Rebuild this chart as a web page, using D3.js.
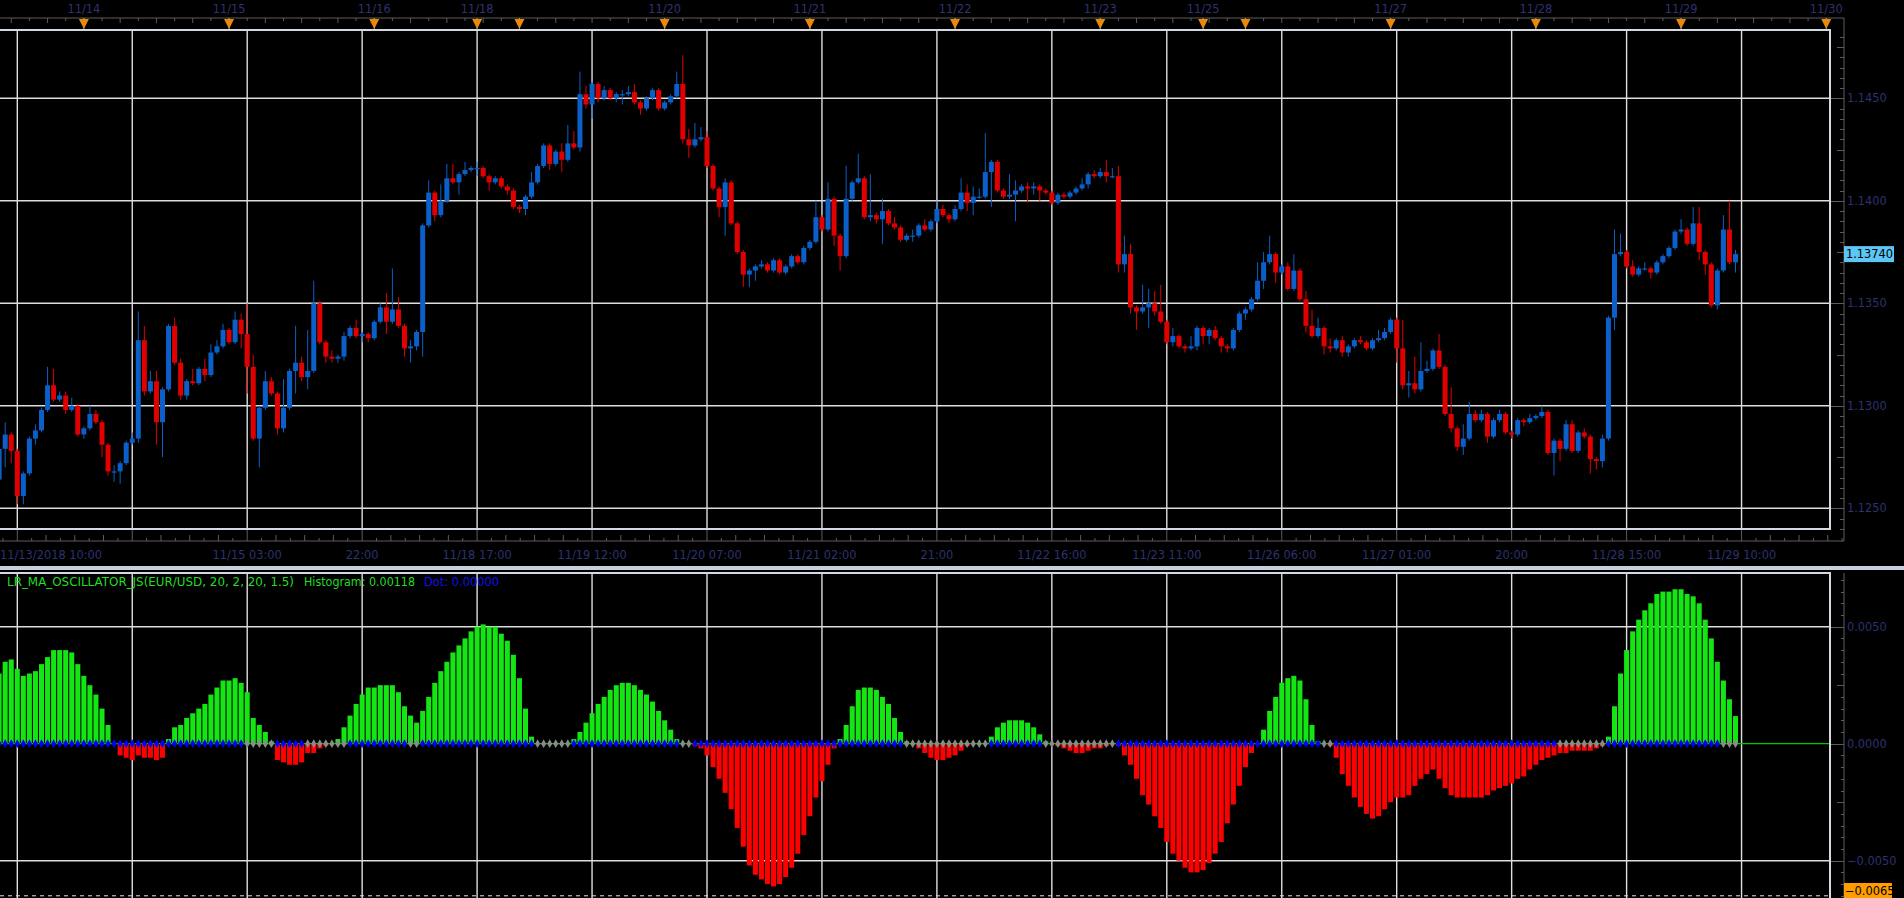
<!DOCTYPE html>
<html>
<head>
<meta charset="utf-8">
<script src="https://cdnjs.cloudflare.com/ajax/libs/d3/7.8.5/d3.min.js"></script>
<style>
  html, body { margin: 0; padding: 0; background: #000; overflow: hidden; }
  svg text { font-family: "DejaVu Sans", Verdana, sans-serif; font-size: 11.4px; }
</style>
</head>
<body>
<div id="chart"></div>
<script>

// EUR/USD hourly bars, 11/13/2018 10:00 .. 11/29 09:00
// prices in pips above 1.1200, each open is the previous close
var firstOpen = 64;
var closes = [
  79, 86, 78, 56, 67, 84, 88, 98, 110, 103,
  105, 98, 100, 86, 89, 96, 92, 81, 68, 68,
  72, 82, 84, 132, 107, 112, 92, 108, 139, 121,
  105, 112, 111, 118, 115, 126, 129, 137, 131, 142,
  135, 119, 84, 99, 112, 106, 89, 99, 117, 121,
  114, 117, 150, 131, 124, 123, 124, 134, 138, 134,
  135, 133, 141, 148, 141, 147, 139, 128, 129, 136,
  188, 204, 193, 200, 211, 209, 213, 215, 216, 216,
  212, 209, 211, 207, 205, 197, 196, 202, 209, 217,
  227, 218, 224, 220, 228, 226, 252, 247, 257, 250,
  254, 250, 252, 252, 253, 248, 245, 250, 254, 245,
  248, 251, 257, 230, 227, 230, 231, 217, 206, 197,
  209, 189, 175, 164, 166, 168, 169, 166, 171, 165,
  168, 173, 170, 177, 180, 192, 186, 201, 183, 173,
  201, 209, 211, 192, 193, 191, 195, 189, 187, 181,
  183, 183, 188, 186, 190, 196, 193, 191, 196, 204,
  199, 202, 202, 214, 219, 205, 202, 203, 205, 207,
  206, 207, 205, 204, 199, 203, 202, 204, 206, 208,
  213, 212, 214, 212, 212, 169, 174, 148, 146, 148,
  150, 146, 141, 131, 134, 129, 128, 129, 138, 134,
  137, 133, 129, 128, 137, 145, 147, 152, 161, 170,
  174, 165, 168, 157, 166, 152, 139, 134, 138, 129,
  128, 132, 126, 129, 132, 131, 128, 132, 133, 136,
  142, 128, 110, 111, 108, 117, 118, 127, 119, 96,
  89, 80, 84, 96, 93, 96, 85, 93, 96, 87,
  86, 93, 92, 94, 95, 97, 77, 83, 79, 91,
  78, 87, 85, 74, 73, 84, 143, 174, 175, 168,
  164, 167, 167, 165, 170, 173, 177, 185, 186, 179,
  189, 175, 169, 149, 166, 186, 170, 174
];
var highs = [
  81, 92, 87, 79, 68, 85, 91, 99, 119, 118,
  107, 107, 104, 101, 90, 100, 98, 93, 82, 71,
  73, 83, 87, 146, 139, 117, 117, 109, 140, 143,
  123, 113, 118, 119, 123, 130, 132, 140, 138, 146,
  145, 150, 125, 100, 117, 114, 107, 113, 118, 139,
  124, 137, 161, 151, 132, 127, 125, 136, 139, 142,
  136, 136, 142, 150, 155, 167, 153, 140, 132, 137,
  189, 210, 205, 208, 218, 218, 214, 219, 217, 219,
  217, 213, 212, 212, 208, 206, 198, 203, 214, 218,
  228, 228, 225, 228, 237, 234, 263, 256, 258, 258,
  256, 255, 253, 254, 256, 257, 249, 251, 255, 255,
  249, 252, 263, 271, 235, 238, 236, 234, 218, 207,
  211, 210, 190, 176, 167, 169, 171, 170, 172, 172,
  169, 174, 174, 178, 181, 200, 193, 209, 202, 184,
  217, 210, 223, 212, 213, 194, 201, 196, 192, 188,
  184, 186, 189, 191, 191, 200, 198, 194, 198, 211,
  208, 207, 206, 233, 220, 220, 206, 213, 210, 208,
  209, 209, 208, 206, 205, 204, 204, 205, 207, 211,
  214, 215, 216, 220, 216, 217, 183, 179, 149, 159,
  157, 156, 159, 142, 138, 135, 130, 134, 139, 139,
  138, 139, 134, 130, 138, 146, 148, 153, 170, 175,
  183, 175, 169, 170, 174, 167, 156, 147, 143, 139,
  133, 133, 134, 130, 133, 134, 132, 133, 137, 138,
  143, 143, 142, 117, 124, 131, 122, 128, 135, 120,
  109, 90, 91, 102, 98, 98, 97, 94, 98, 97,
  88, 94, 94, 96, 96, 100, 98, 84, 84, 93,
  93, 88, 89, 86, 75, 86, 144, 186, 184, 176,
  171, 168, 170, 168, 171, 174, 178, 186, 191, 187,
  197, 197, 176, 170, 167, 193, 200, 176
];
var lows = [
  62, 70, 72, 52, 52, 66, 81, 87, 97, 102,
  102, 96, 97, 85, 84, 88, 91, 75, 66, 63,
  62, 71, 81, 82, 105, 106, 81, 75, 107, 120,
  103, 103, 110, 110, 112, 114, 125, 128, 130, 130,
  128, 106, 83, 70, 98, 105, 86, 87, 98, 106,
  112, 108, 116, 130, 121, 121, 121, 122, 133, 133,
  131, 131, 132, 140, 135, 140, 138, 124, 121, 127,
  124, 187, 190, 192, 199, 208, 203, 212, 214, 212,
  211, 205, 208, 206, 203, 196, 194, 193, 201, 208,
  216, 215, 217, 214, 219, 225, 224, 245, 240, 248,
  249, 249, 248, 247, 251, 247, 242, 244, 249, 244,
  244, 247, 250, 228, 221, 226, 229, 216, 205, 192,
  183, 188, 174, 158, 158, 161, 167, 165, 165, 164,
  164, 167, 169, 169, 176, 179, 185, 185, 178, 166,
  172, 200, 208, 191, 190, 189, 179, 188, 186, 180,
  180, 180, 182, 185, 185, 189, 192, 189, 190, 195,
  195, 193, 201, 201, 197, 204, 201, 201, 190, 204,
  199, 203, 200, 203, 198, 198, 201, 201, 203, 205,
  206, 211, 211, 209, 211, 165, 165, 145, 137, 145,
  138, 144, 140, 130, 129, 128, 126, 127, 127, 130,
  130, 132, 126, 126, 127, 136, 142, 146, 151, 157,
  169, 160, 164, 156, 156, 151, 136, 133, 133, 125,
  126, 127, 124, 124, 128, 130, 127, 127, 131, 132,
  135, 121, 108, 104, 106, 107, 116, 117, 118, 95,
  87, 78, 76, 83, 92, 92, 82, 84, 92, 86,
  84, 85, 90, 91, 93, 94, 76, 66, 73, 78,
  77, 77, 84, 67, 69, 70, 83, 137, 173, 167,
  163, 163, 166, 162, 164, 169, 172, 176, 184, 178,
  178, 171, 164, 148, 147, 165, 169, 165
];

// LR MA oscillator histogram, units of 0.0001
var histogram = [
  30, 35, 36, 32, 29, 30, 31, 34, 37, 40,
  40, 40, 39, 34, 29, 25, 21, 15, 8, 0,
  -5, -6, -7, -5, -6, -6, -7, -6, 2, 7,
  8, 11, 13, 15, 17, 21, 24, 27, 27, 28,
  26, 22, 11, 8, 5, 1, -7, -8, -9, -9,
  -8, -4, -4, -2, -1, 0, 2, 7, 12, 17,
  21, 24, 24, 25, 25, 25, 22, 16, 12, 9,
  14, 20, 26, 31, 35, 39, 42, 45, 48, 50,
  51, 50, 50, 47, 44, 38, 28, 15, 3, 0,
  0, 0, 0, 0, 0, 2, 5, 9, 13, 17,
  20, 23, 25, 26, 26, 25, 23, 21, 18, 14,
  10, 6, 2, 0, 0, -1, -2, -5, -10, -15,
  -21, -28, -36, -44, -52, -56, -58, -60, -61, -60,
  -57, -53, -47, -39, -31, -23, -16, -9, -2, 2,
  8, 16, 23, 24, 24, 23, 20, 17, 11, 5,
  1, 0, -2, -4, -6, -7, -7, -6, -5, -3,
  -1, 0, 0, 0, 3, 7, 9, 10, 10, 10,
  9, 7, 4, 1, 0, -1, -2, -3, -4, -4,
  -3, -2, -2, -1, 0, -1, -5, -9, -15, -22,
  -26, -31, -36, -42, -47, -50, -53, -55, -55, -54,
  -51, -47, -42, -34, -26, -18, -10, -4, 0, 6,
  14, 20, 26, 28, 29, 27, 19, 8, 1, 0,
  -1, -6, -13, -18, -23, -27, -30, -32, -31, -28,
  -25, -23, -23, -22, -18, -15, -13, -11, -15, -19,
  -22, -23, -23, -23, -23, -23, -22, -20, -19, -18,
  -17, -15, -14, -11, -9, -7, -6, -5, -4, -4,
  -3, -3, -3, -3, -2, -1, 3, 16, 30, 40,
  48, 53, 57, 60, 64, 65, 65, 66, 66, 64,
  63, 60, 53, 45, 35, 27, 19, 11.8
];

// bars whose zero dot is grey rather than blue
var greyDotRanges = [[41, 45], [51, 57], [68, 69], [89, 94], [113, 114], [150, 163], [173, 184], [219, 220], [258, 265], [285, 287]];

// axes
var priceTicks = [1.1250, 1.1300, 1.1350, 1.1400, 1.1450];
var oscTicks = [-0.005, 0, 0.005];
var oscLow = -0.0065;
var lastPrice = 1.13740;
var dayMarkIdx = [14, 38, 62, 79, 86, 110, 134, 158, 182, 199, 206, 230, 254, 278, 302];
var dayMarkLabels = ["11/14", "11/15", "11/16", "11/18", "", "11/20", "11/21", "11/22", "11/23", "11/25", "", "11/27", "11/28", "11/29", "11/30"];
var firstBarLabel = "11/13/2018 10:00";
var gridLabels = ["", "", "11/15 03:00", "22:00", "11/18 17:00", "11/19 12:00", "11/20 07:00", "11/21 02:00",
                  "21:00", "11/22 16:00", "11/23 11:00", "11/26 06:00", "11/27 01:00", "20:00", "11/28 15:00", "11/29 10:00"];
var legendMain = "LR_MA_OSCILLATOR_JS(EUR/USD, 20, 2, 20, 1.5)";
var legendHist = "Histogram: 0.00118";
var legendDot = "Dot: 0.00000";


var W = 1904, H = 898;
var textColor = "#2d3270", axisColor = "#5c5c5c", gridColor = "#dedede", frameColor = "#d3d9e2";
var upColor = "#0a5fc8", downColor = "#e00000";

var svg = d3.select("#chart").append("svg")
  .attr("width", W)
  .attr("height", H)
  .style("display", "block")
  .style("background", "#000");

// shared time scale, one step per hourly bar
var x = d3.scaleLinear().domain([0, 302]).range([-0.85, -0.85 + 6.05 * 302]);
var gridIdx = gridLabels.map(function(d, k){ return 3 + 19 * k; });

var layout = {
  topAxis: 18, mainTop: 30, mainBottom: 529, bottomAxis: 541,
  frameRight: 1830, axisX: 1844, oscTop: 573
};

function pip(p) { return 1.12 + p / 10000; }

/*
 * PriceChart - candles, grid and time axes of the upper panel
 */
PriceChart = function(_svg, _closes){
  this.svg = _svg;
  this.bars = _closes.map(function(c, i){
    var o = i === 0 ? firstOpen : _closes[i - 1];
    return {
      i: i,
      open: pip(o), close: pip(c),
      high: pip(Math.max(highs[i], o, c)),
      low: pip(Math.min(lows[i], o, c))
    };
  });
  this.initVis();
}

PriceChart.prototype.initVis = function(){
  var vis = this;
  var L = layout;

  vis.y = d3.scaleLinear().domain([1.1250, 1.1450]).range([508.3, 98.3]);

  vis.g = vis.svg.append("g");

  // Grid
  vis.g.selectAll(".hgrid").data(priceTicks).enter().append("line")
    .attr("x1", 0).attr("x2", L.frameRight)
    .attr("y1", function(d){ return vis.y(d); }).attr("y2", function(d){ return vis.y(d); })
    .attr("stroke", gridColor).attr("stroke-width", 1.4);

  vis.g.selectAll(".vgrid").data(gridIdx).enter().append("line")
    .attr("x1", function(d){ return x(d); }).attr("x2", function(d){ return x(d); })
    .attr("y1", L.mainTop).attr("y2", L.mainBottom)
    .attr("stroke", gridColor).attr("stroke-width", 1.4);

  // Axis box (top, right, bottom)
  vis.g.append("path")
    .attr("d", "M0," + L.topAxis + "H" + L.axisX + "V" + L.bottomAxis + "H0")
    .attr("fill", "none").attr("stroke", axisColor).attr("stroke-width", 1);

  // Top axis: ticks every 3 hours, longer every 6
  var hourTicks = d3.range(2, 303, 3);
  vis.g.selectAll(".ttick").data(hourTicks).enter().append("line")
    .attr("x1", function(d){ return x(d); }).attr("x2", function(d){ return x(d); })
    .attr("y1", L.topAxis)
    .attr("y2", function(d){ return L.topAxis + ((d - 2) % 6 === 0 ? 5 : 3); })
    .attr("stroke", axisColor);

  // Day markers
  var marks = vis.g.selectAll(".mark").data(dayMarkIdx).enter().append("g")
    .attr("transform", function(d){ return "translate(" + x(d) + ",0)"; });
  marks.append("line")
    .attr("y1", L.topAxis).attr("y2", L.mainTop)
    .attr("stroke", "#9aa0a8").attr("stroke-width", 1);
  marks.append("path")
    .attr("d", "M-5,19L5,19L0,29Z")
    .attr("fill", "#e8890c");
  marks.append("text")
    .attr("y", 13).attr("text-anchor", "middle")
    .attr("fill", textColor)
    .text(function(d, k){ return dayMarkLabels[k]; });

  // Bottom axis
  var subTicks = d3.range(-1, 16 * 8 + 1);
  vis.g.selectAll(".btick").data(subTicks).enter().append("line")
    .attr("x1", function(j){ return x(3 + j * 19 / 8); }).attr("x2", function(j){ return x(3 + j * 19 / 8); })
    .attr("y1", function(j){
      var m = ((j % 8) + 8) % 8;
      return L.bottomAxis - (m === 0 ? 11 : (m % 2 === 0 ? 6 : 3));
    })
    .attr("y2", L.bottomAxis)
    .attr("stroke", axisColor)
    .attr("display", function(j){ return x(3 + j * 19 / 8) > L.axisX ? "none" : null; });

  vis.g.selectAll(".blabel").data(gridIdx).enter().append("text")
    .attr("x", function(d){ return x(d); }).attr("y", 559)
    .attr("text-anchor", "middle").attr("fill", textColor)
    .text(function(d, k){ return gridLabels[k]; });

  vis.g.append("text")
    .attr("x", 0).attr("y", 559).attr("fill", textColor)
    .text(firstBarLabel);

  // Right price axis
  var minorPrices = d3.range(0, 49).map(function(k){ return 1.1240 + k * 0.0005; });
  vis.g.selectAll(".ptick").data(minorPrices).enter().append("line")
    .attr("x1", function(d, k){ return L.axisX - (k % 10 === 2 ? 14 : (k % 5 === 2 ? 7 : 4)); })
    .attr("x2", L.axisX)
    .attr("y1", function(d){ return Math.round(vis.y(d)) + 0.5; })
    .attr("y2", function(d){ return Math.round(vis.y(d)) + 0.5; })
    .attr("stroke", axisColor);

  vis.g.selectAll(".plabel").data(priceTicks).enter().append("text")
    .attr("x", 1847).attr("y", function(d){ return vis.y(d); })
    .attr("dy", "0.35em").attr("fill", textColor)
    .text(function(d){ return d3.format(".4f")(d); });

  vis.updateVis();
}

PriceChart.prototype.updateVis = function(){
  var vis = this;
  var L = layout;

  var candle = vis.g.append("g").selectAll("g").data(vis.bars).enter().append("g");

  candle.append("line")
    .attr("x1", function(d){ return x(d.i); }).attr("x2", function(d){ return x(d.i); })
    .attr("y1", function(d){ return vis.y(d.high); })
    .attr("y2", function(d){ return vis.y(d.low); })
    .attr("stroke", function(d){ return d.close >= d.open ? upColor : downColor; })
    .attr("stroke-width", 1);

  candle.append("rect")
    .attr("x", function(d){ return x(d.i) - 2.5; })
    .attr("width", 5)
    .attr("y", function(d){ return vis.y(Math.max(d.open, d.close)); })
    .attr("height", function(d){ return Math.max(1.2, Math.abs(vis.y(d.open) - vis.y(d.close))); })
    .attr("fill", function(d){ return d.close >= d.open ? upColor : downColor; });

  // Plot frame
  vis.g.append("path")
    .attr("d", "M-2," + L.mainTop + "H" + L.frameRight + "V" + L.mainBottom + "H-2")
    .attr("fill", "none").attr("stroke", frameColor).attr("stroke-width", 2);

  // Last price tag
  var yl = vis.y(lastPrice);
  vis.g.append("rect")
    .attr("x", 1844).attr("y", yl - 8).attr("width", 50).attr("height", 16)
    .attr("fill", "#5cc6f4");
  vis.g.append("text")
    .attr("x", 1846).attr("y", yl).attr("dy", "0.35em")
    .attr("fill", "#000").text(d3.format(".5f")(lastPrice));
}

/*
 * OscChart - histogram panel below the price panel
 */
OscChart = function(_svg, _data){
  this.svg = _svg;
  this.data = _data.map(function(v, i){
    var grey = greyDotRanges.some(function(r){ return i >= r[0] && i <= r[1]; });
    return {i: i, value: v / 10000, grey: grey};
  });
  this.initVis();
}

OscChart.prototype.initVis = function(){
  var vis = this;
  var L = layout;

  vis.y = d3.scaleLinear().domain([-0.005, 0.005]).range([860.7, 626.7]);

  vis.g = vis.svg.append("g");

  // Separator band between panels
  vis.g.append("rect")
    .attr("x", 0).attr("y", 566).attr("width", W).attr("height", 4)
    .attr("fill", "#c7d0dc");

  // Grid
  vis.g.selectAll(".hgrid").data([-0.005, 0.005]).enter().append("line")
    .attr("x1", 0).attr("x2", L.frameRight)
    .attr("y1", function(d){ return vis.y(d); }).attr("y2", function(d){ return vis.y(d); })
    .attr("stroke", gridColor).attr("stroke-width", 1.4);

  vis.g.selectAll(".vgrid").data(gridIdx).enter().append("line")
    .attr("x1", function(d){ return x(d); }).attr("x2", function(d){ return x(d); })
    .attr("y1", L.oscTop).attr("y2", H)
    .attr("stroke", gridColor).attr("stroke-width", 1.4);

  vis.g.append("line")
    .attr("x1", 0).attr("x2", L.frameRight)
    .attr("y1", vis.y(oscLow)).attr("y2", vis.y(oscLow))
    .attr("stroke", "#e0e0e0").attr("stroke-dasharray", "4,4");

  vis.g.append("line")
    .attr("x1", 0).attr("x2", L.frameRight)
    .attr("y1", vis.y(0)).attr("y2", vis.y(0))
    .attr("stroke", "#00c800").attr("stroke-width", 1.2);

  // Right axis
  vis.g.append("line")
    .attr("x1", L.axisX).attr("x2", L.axisX)
    .attr("y1", L.oscTop).attr("y2", H)
    .attr("stroke", axisColor);

  var minor = d3.range(0, 28).map(function(k){ return -0.0065 + k * 0.0005; });
  vis.g.selectAll(".otick").data(minor).enter().append("line")
    .attr("x1", function(d){
      var m = Math.round(d * 10000);
      return L.axisX - (m % 50 === 0 ? 14 : (m % 25 === 0 ? 7 : 3));
    })
    .attr("x2", L.axisX)
    .attr("y1", function(d){ return Math.round(vis.y(d)) + 0.5; })
    .attr("y2", function(d){ return Math.round(vis.y(d)) + 0.5; })
    .attr("stroke", axisColor);

  vis.g.selectAll(".olabel").data(oscTicks).enter().append("text")
    .attr("x", 1847).attr("y", function(d){ return vis.y(d); })
    .attr("dy", "0.35em").attr("fill", textColor)
    .text(function(d){ return d3.format(".4f")(d); });

  // Lower bound tag, kept inside the window
  vis.g.append("rect")
    .attr("x", 1844).attr("y", 883).attr("width", 48).attr("height", 15)
    .attr("fill", "#ff9d00");
  vis.g.append("text")
    .attr("x", 1845).attr("y", 895)
    .attr("fill", "#000").text(d3.format(".4f")(oscLow));

  vis.updateVis();
}

OscChart.prototype.updateVis = function(){
  var vis = this;
  var L = layout;
  var y0 = vis.y(0);

  vis.g.append("g").selectAll("rect").data(vis.data).enter().append("rect")
    .attr("x", function(d){ return x(d.i) - 2.5; })
    .attr("width", 5)
    .attr("y", function(d){ return Math.min(vis.y(d.value), y0); })
    .attr("height", function(d){ return Math.abs(vis.y(d.value) - y0); })
    .attr("fill", function(d){ return d.value >= 0 ? "#14e614" : "#ff0000"; });

  vis.g.append("g").selectAll("path").data(vis.data).enter().append("path")
    .attr("transform", function(d){ return "translate(" + x(d.i) + "," + y0 + ")"; })
    .attr("d", d3.symbol(d3.symbolDiamond, 22))
    .attr("fill", function(d){ return d.grey ? "#8a8a8a" : "#0000ff"; });

  // Frame
  vis.g.append("path")
    .attr("d", "M-2," + L.oscTop + "H" + L.frameRight + "V" + (H + 2))
    .attr("fill", "none").attr("stroke", frameColor).attr("stroke-width", 2);

  // Legend, each part fitted to the width it takes in the source
  var legend = vis.g.append("g").style("font-size", "12px");
  legend.append("text").attr("x", 7).attr("y", 586)
    .attr("textLength", 287).attr("lengthAdjust", "spacingAndGlyphs")
    .attr("fill", "#22dd22").text(legendMain);
  legend.append("text").attr("x", 304).attr("y", 586)
    .attr("textLength", 111).attr("lengthAdjust", "spacingAndGlyphs")
    .attr("fill", "#22dd22").text(legendHist);
  legend.append("text").attr("x", 424).attr("y", 586)
    .attr("textLength", 75).attr("lengthAdjust", "spacingAndGlyphs")
    .attr("fill", "#1010e8").text(legendDot);
}

var priceChart = new PriceChart(svg, closes);
var oscChart = new OscChart(svg, histogram);

</script>
</body>
</html>
